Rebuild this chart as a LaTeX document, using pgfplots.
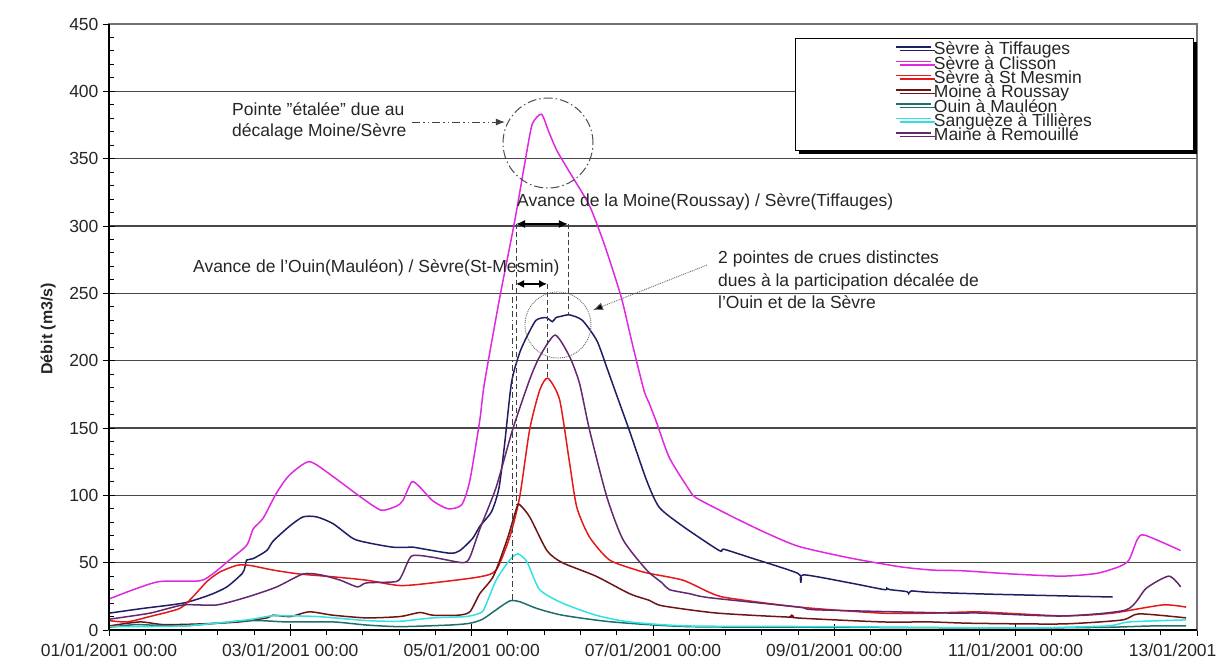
\documentclass[border=0pt]{standalone}
\usepackage{pgfplots}
\pgfplotsset{compat=1.18}
\usepackage{fontspec}
\setmainfont{Liberation Sans}
\usetikzlibrary{arrows.meta,shadows}
\definecolor{cTif}{RGB}{30,30,100}
\definecolor{cCli}{RGB}{225,40,225}
\definecolor{cMes}{RGB}{228,25,25}
\definecolor{cMoi}{RGB}{110,20,20}
\definecolor{cOui}{RGB}{30,110,110}
\definecolor{cSan}{RGB}{50,225,225}
\definecolor{cMai}{RGB}{100,40,110}
\newcommand{\fs}{\fontsize{17.5}{21}\selectfont}
\begin{document}
\begin{tikzpicture}
\begin{axis}[
  scale only axis, width=1088pt, height=606pt,
  xmin=0, xmax=12, ymin=0, ymax=450,
  xtick={0,2,...,12},
  xticklabels={01/01/2001 00:00,03/01/2001 00:00,05/01/2001 00:00,07/01/2001 00:00,09/01/2001 00:00,11/01/2001 00:00,13/01/2001 00:00},
  minor x tick num=4,
  ytick={0,50,...,450}, minor y tick num=4,
  xtick pos=bottom, ytick pos=left,
  tick align=center,
  major tick length=12pt, minor tick length=5pt,
  minor x tick style={yshift=-2.5pt},
  minor y tick style={xshift=2.5pt},
  tick style={black, line width=0.9pt},
  ymajorgrids, major grid style={black!72, line width=1.3pt},
  axis line style={black!55, line width=1.2pt},
  tick label style={font=\fs, text=black!85},
  /pgf/number format/assume math mode=true,
  yticklabel style={xshift=-1pt},
  xticklabel style={yshift=-4pt},
  ylabel={Débit (m3/s)},
  every axis y label/.style={at={(axis description cs:-0.056,0.497)}, rotate=90, anchor=center, font=\fontsize{16}{19}\selectfont\bfseries, text=black!85},
  legend cell align=left,
  legend image code/.code={\draw[#1, line width=1.5pt, solid] (0pt,4.5pt) -- (35pt,4.5pt);},
  legend style={at={(axis description cs:0.6305,0.977)}, anchor=north west,
     font=\fs, fill=white, draw=black, line width=0.9pt,
     inner xsep=100pt, inner ysep=6pt, row sep=0pt,
     nodes={inner ysep=0pt, inner xsep=2pt, text height=10.5pt, text depth=3.8pt, text=black!85},
     drop shadow={shadow xshift=3.5pt, shadow yshift=-3.5pt, fill=black, opacity=1}},
  every axis plot/.append style={line width=1.5pt, smooth, tension=0.4},
]
\addplot[cTif] coordinates {(0,12.5)(0.37,16)(0.82,20)(1.11,26)(1.30,32)(1.47,42)(1.50,47)(1.52,52)(1.59,53)(1.74,59)(1.81,66)(1.99,77)(2.14,84)(2.29,84)(2.47,79)(2.69,68)(2.84,65)(3.13,61.5)(3.35,61.5)(3.40,61)(3.76,57)(3.87,59)(4.01,68)(4.09,77)(4.22,88)(4.30,105)(4.36,136)(4.44,184)(4.53,206)(4.61,218)(4.71,230)(4.82,232)(4.89,229)(4.93,232)(4.99,233)(5.08,234)(5.22,230)(5.38,215)(5.49,195)(5.58,178)(5.74,148)(5.93,111)(6.07,91)(6.33,77)(6.73,59)(6.78,60)(7.06,54)(7.60,42)(7.63,35)(7.66,41)(8.17,35)(8.55,30)(8.58,31)(8.61,30)(8.80,28.5)(8.82,27)(8.85,29)(9.05,28)(9.78,26.5)(11.07,24.5)};
\addlegendentry{Sèvre à Tiffauges}
\addplot[cCli] coordinates {(0,23)(0.27,30)(0.56,36)(1.0,36.5)(1.15,42)(1.33,52)(1.52,63)(1.59,75)(1.70,83)(1.85,102)(1.99,115)(2.21,125)(2.47,114)(2.77,99)(3.0,89)(3.17,92)(3.24,96)(3.34,110)(3.43,106)(3.57,96)(3.74,90)(3.89,93)(3.98,111)(4.09,156)(4.14,183)(4.31,247)(4.47,302)(4.61,356)(4.67,376)(4.77,383)(4.85,370)(4.94,356)(5.08,340)(5.30,315)(5.47,285)(5.65,247)(5.77,213)(5.90,178)(5.96,168)(6.04,154)(6.18,128)(6.40,104)(6.48,98)(6.88,84)(7.25,72)(7.61,62)(8.17,53.5)(8.72,47)(9.08,44.5)(9.41,44)(9.96,41.6)(10.51,40)(10.89,42)(11.14,47)(11.25,52)(11.34,67)(11.42,70.5)(11.82,59)};
\addlegendentry{Sèvre à Clisson}
\addplot[cMes] coordinates {(0,7)(0.2,6)(0.45,10)(0.78,16)(0.93,25)(1.08,36)(1.22,43)(1.41,48)(1.55,48)(1.81,44.5)(2.10,41.6)(2.47,39.5)(2.84,37)(3.21,33)(3.57,35)(4.09,39.5)(4.27,44.5)(4.42,69)(4.53,99)(4.64,149)(4.75,178)(4.84,187)(4.97,171)(5.08,124)(5.16,91)(5.30,69)(5.52,52)(5.82,44.5)(5.96,42)(6.33,37)(6.62,28)(6.81,24)(7.61,17)(8.53,12.5)(9.05,12.5)(9.6,13.4)(10.51,10.5)(11.06,12.5)(11.62,18.6)(11.88,17)};
\addlegendentry{Sèvre à St Mesmin}
\addplot[cMoi] coordinates {(0,3)(0.34,6)(0.6,4)(1.0,4.5)(1.44,6)(1.74,9)(1.81,11)(2.0,10)(2.21,13.5)(2.47,11)(2.84,9)(3.21,10)(3.43,13)(3.57,11)(3.85,11)(3.98,13.5)(4.09,27)(4.24,40)(4.39,67)(4.50,91.5)(4.53,93)(4.64,84)(4.83,59)(5.0,50)(5.37,40)(5.74,27)(5.96,22)(6.10,18)(6.70,12.6)(7.5,9.6)(7.53,11)(7.58,9)(8.53,6)(9.05,6)(9.52,5)(10.51,4.5)(11.17,7.4)(11.36,12)(11.88,9)};
\addlegendentry{Moine à Roussay}
\addplot[cOui] coordinates {(0,2)(0.3,4)(0.82,3)(1.55,7)(1.96,6)(2.47,6)(2.84,3.7)(3.21,2.5)(3.76,3.7)(3.98,5)(4.12,8)(4.27,15)(4.42,21.6)(4.53,21)(4.72,16)(5.0,11)(5.55,6)(6.40,2.5)(8.0,2)(10.0,1.5)(11.0,2)(11.5,3)(11.88,3)};
\addlegendentry{Ouin à Mauléon}
\addplot[cSan] coordinates {(0,2.5)(0.82,3)(1.52,7.5)(1.81,10.5)(2.29,10)(2.84,7)(3.21,6.5)(3.57,9)(3.94,10)(4.09,12.5)(4.14,16)(4.27,37)(4.42,52)(4.51,56.5)(4.61,50.6)(4.75,30)(5.0,20)(5.37,11)(5.74,6)(6.40,3)(8.0,2.5)(10.0,1.5)(11.0,3)(11.25,6)(11.88,7.5)};
\addlegendentry{Sanguèze à Tillières}
\addplot[cMai] coordinates {(0,8)(0.45,12.5)(0.82,18.6)(1.19,18.6)(1.55,25)(1.85,32)(2.14,41.6)(2.33,41)(2.55,37)(2.74,32)(2.84,35)(3.17,36)(3.24,42)(3.34,55)(3.57,54)(3.90,50)(3.98,54)(4.09,75)(4.27,106)(4.45,148.5)(4.64,186)(4.75,203)(4.92,219)(5.08,203)(5.19,183)(5.30,148.5)(5.49,99)(5.67,67)(5.93,44.5)(6.10,35)(6.18,30)(6.40,27)(6.62,24)(7.61,17)(7.8,15)(9.27,12.6)(9.6,12.6)(10.51,10.4)(11.22,15)(11.44,31)(11.69,40)(11.82,32)};
\addlegendentry{Maine à Remouillé}
% annotations
\node[anchor=west, align=left, font=\fontsize{17.5}{21}\selectfont, text=black!85, inner sep=0pt] at (axis cs:1.357,377.6) {Pointe "étalée" due au\\décalage Moine/Sèvre};
\draw[black!75, line width=1pt, dash pattern=on 8pt off 3pt on 1.5pt off 3pt on 1.5pt off 3pt, -{Latex[length=9pt,width=7pt]}] (axis cs:3.342,377.2) -- (axis cs:4.367,377.2);
\draw[black!70, line width=1pt, dash pattern=on 9pt off 3pt on 1.5pt off 3pt] (axis cs:4.842,361.6) circle (45pt);
\node[anchor=west, font=\fs, text=black!85, inner sep=0pt] at (axis cs:4.50,317.8) {Avance de la Moine(Roussay) / Sèvre(Tiffauges)};
\draw[black, line width=1.5pt, {Latex[length=9pt,width=8pt]}-{Latex[length=9pt,width=8pt]}] (axis cs:4.489,301.5) -- (axis cs:5.062,301.5);
\draw[black!75, line width=0.9pt, dash pattern=on 5pt off 3pt] (axis cs:4.489,301.5) -- (axis cs:4.489,92.8);
\draw[black!75, line width=0.9pt, dash pattern=on 5pt off 3pt] (axis cs:5.062,301.5) -- (axis cs:5.062,234);
\node[anchor=west, font=\fs, text=black!85, inner sep=0pt] at (axis cs:0.926,268.8) {Avance de l'Ouin(Mauléon) / Sèvre(St-Mesmin)};
\draw[black, line width=1.5pt, {Latex[length=8pt,width=8pt]}-{Latex[length=8pt,width=8pt]}] (axis cs:4.489,257) -- (axis cs:4.831,257);
\draw[black!75, line width=0.9pt, dash pattern=on 5pt off 3pt] (axis cs:4.831,257) -- (axis cs:4.831,187);
\draw[black!75, line width=0.9pt, dash pattern=on 6pt off 3pt on 1.5pt off 3pt] (axis cs:4.445,257) -- (axis cs:4.445,20.8);
\draw[black!60, line width=0.9pt, densely dotted] (axis cs:4.952,226.5) circle (33pt);
\draw[black!60, line width=0.9pt, densely dotted, -{Latex[length=10pt,width=8pt,fill=black]}] (axis cs:6.595,271) -- (axis cs:5.338,237.6);
\node[anchor=west, align=left, font=\fontsize{17.5}{22.5}\selectfont, text=black!85, inner sep=0pt] at (axis cs:6.717,259.9) {2 pointes de crues distinctes\\dues à la participation décalée de\\l'Ouin et de la Sèvre};
\coordinate (sw) at (rel axis cs:0,0);
\coordinate (ne) at (rel axis cs:1,1);
\end{axis}
\draw[black, line width=1.2pt] (sw) -- (sw |- ne);
\draw[black, line width=1.2pt] (sw) -- (sw -| ne);
\pgfresetboundingbox
\path ([shift={(-109pt,-34pt)}]sw) rectangle ([shift={(20pt,24pt)}]ne);
\end{tikzpicture}
\end{document}
